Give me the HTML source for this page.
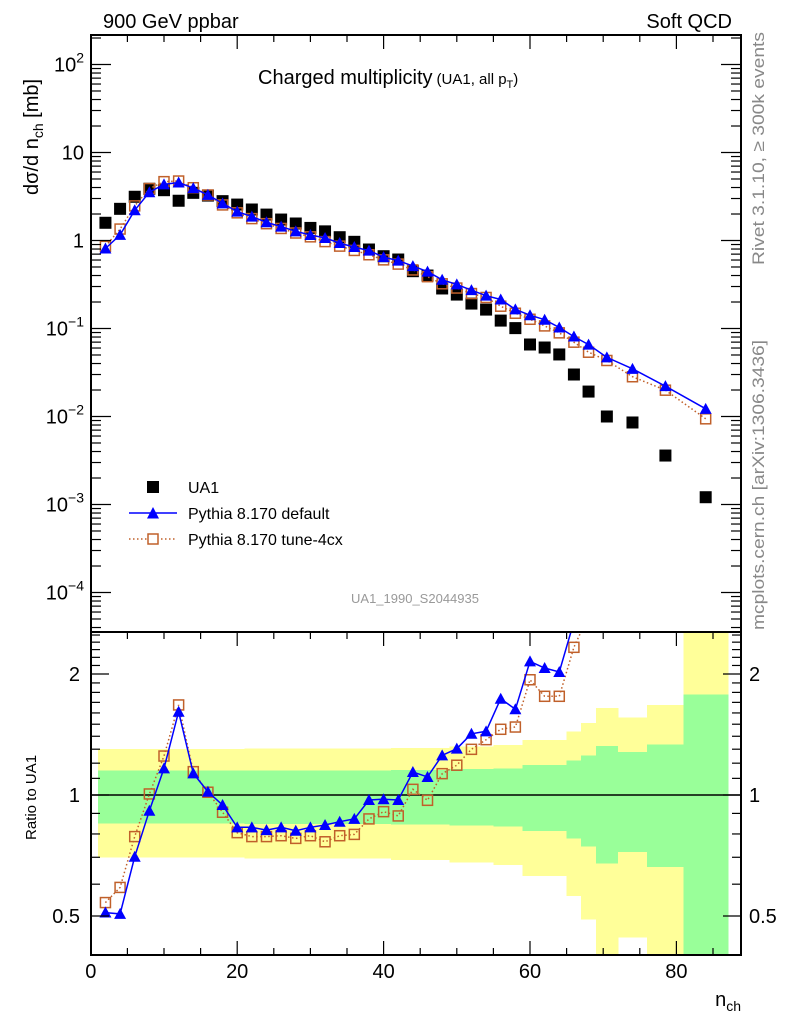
<!DOCTYPE html>
<html><head><meta charset="utf-8">
<style>
html,body{margin:0;padding:0;background:#fff;}
svg{display:block;font-family:"Liberation Sans",sans-serif;}
</style></head>
<body>
<svg id="chart" width="786" height="1024" viewBox="0 0 786 1024" xmlns="http://www.w3.org/2000/svg">
<defs>
<clipPath id="clipMain"><rect x="91" y="35" width="650" height="597"/></clipPath>
<clipPath id="clipRatio"><rect x="91" y="632" width="650" height="323"/></clipPath>
</defs>
<g id="bands" clip-path="url(#clipRatio)" shape-rendering="crispEdges"></g>
<line x1="91" y1="795" x2="741" y2="795" stroke="#000" stroke-width="1.5"/>
<g id="mainMarks" clip-path="url(#clipMain)"></g>
<g id="ratioMarks" clip-path="url(#clipRatio)"></g>
<g id="axes"></g>
<rect x="91" y="35" width="650" height="597" fill="none" stroke="#000" stroke-width="2"/>
<rect x="91" y="632" width="650" height="323" fill="none" stroke="#000" stroke-width="2"/>

<text x="103" y="28" font-size="20">900 GeV ppbar</text>
<text x="732" y="28" font-size="20" text-anchor="end">Soft QCD</text>
<text x="258" y="84" font-size="20">Charged multiplicity<tspan font-size="15" dx="4">(UA1, all p</tspan><tspan font-size="11" dy="4">T</tspan><tspan font-size="15" dy="-4">)</tspan></text>
<text transform="translate(38,195) rotate(-90)" font-size="20">dσ/d n<tspan font-size="14" dy="5">ch</tspan><tspan dy="-5"> [mb]</tspan></text>
<text transform="translate(36,840) rotate(-90)" font-size="15">Ratio to UA1</text>
<text x="741" y="1006" font-size="20" text-anchor="end">n<tspan font-size="14" dy="5">ch</tspan></text>
<text transform="translate(764,265) rotate(-90)" font-size="17" fill="#888" textLength="233" lengthAdjust="spacingAndGlyphs">Rivet 3.1.10, ≥ 300k events</text>
<text transform="translate(764,630) rotate(-90)" font-size="17" fill="#888" textLength="290" lengthAdjust="spacingAndGlyphs">mcplots.cern.ch [arXiv:1306.3436]</text>
<text x="415" y="603" font-size="13" fill="#999" text-anchor="middle">UA1_1990_S2044935</text>

<g>
<rect x="147" y="481" width="12" height="12" fill="#000"/>
<text x="188" y="493" font-size="16">UA1</text>
<line x1="129" y1="513" x2="177" y2="513" stroke="#0000ff" stroke-width="1.5"/>
<polygon points="147,518.5 159,518.5 153,507" fill="#0000ff"/>
<text x="188" y="519" font-size="16">Pythia 8.170 default</text>
<line x1="129" y1="539" x2="177" y2="539" stroke="#c0602a" stroke-width="1.5" stroke-dasharray="1.5,2.5"/>
<rect x="148" y="534" width="10" height="10" fill="#fff" stroke="#c0602a" stroke-width="1.5"/>
<text x="188" y="545" font-size="16">Pythia 8.170 tune-4cx</text>
</g>
</svg>
<script>
const nch = [2,4,6,8,10,12,14,16,18,20,22,24,26,28,30,32,34,36,38,40,42,44,46,48,50,52,54,56,58,60,62,64,66,68,70.5,74,78.5,84];
const binLo = [1,3,5,7,9,11,13,15,17,19,21,23,25,27,29,31,33,35,37,39,41,43,45,47,49,51,53,55,57,59,61,63,65,67,69,72,76,81];
const binHi = [3,5,7,9,11,13,15,17,19,21,23,25,27,29,31,33,35,37,39,41,43,45,47,49,51,53,55,57,59,61,63,65,67,69,72,76,81,87];
const ua1 = [1.59,2.29,3.14,3.87,3.73,2.83,3.48,3.24,2.80,2.56,2.25,1.97,1.73,1.56,1.39,1.27,1.09,0.966,0.79,0.663,0.608,0.448,0.40,0.285,0.243,0.192,0.164,0.123,0.101,0.0658,0.0608,0.0507,0.030,0.0192,0.0100,0.00855,0.00360,0.00121];
const ua1RelErr = [0.150,0.150,0.150,0.150,0.150,0.150,0.150,0.150,0.150,0.150,0.152,0.152,0.152,0.152,0.152,0.152,0.152,0.152,0.152,0.152,0.155,0.155,0.155,0.155,0.160,0.160,0.160,0.165,0.165,0.186,0.186,0.186,0.22,0.255,0.324,0.279,0.337,0.78];
const ratioDefault = [0.510,0.506,0.702,0.914,1.165,1.611,1.132,1.019,0.944,0.831,0.831,0.818,0.831,0.815,0.831,0.842,0.858,0.872,0.972,0.976,0.972,1.141,1.109,1.255,1.304,1.420,1.440,1.736,1.634,2.150,2.070,2.023,2.7,3.42,4.69,4.07,6.14,10.1];
const ratioTune = [0.540,0.589,0.788,1.006,1.250,1.675,1.143,1.016,0.906,0.806,0.788,0.788,0.792,0.780,0.792,0.765,0.792,0.798,0.872,0.909,0.887,1.033,0.970,1.130,1.186,1.299,1.373,1.457,1.476,1.935,1.760,1.760,2.33,2.8,4.33,3.31,5.53,7.78];
const xTicks = [0,20,40,60,80];
const mainDecades = [-4,-3,-2,-1,0,1,2];
const ratioMajor = [0.5,1,2];

const NS = "http://www.w3.org/2000/svg";
const X0 = 90.8, XS = 7.32, MAIN1 = 240.5, MDEC = 88, R1 = 795, RDEC = 402;
const xs = n => X0 + XS * n;
const ym = v => MAIN1 - MDEC * Math.log10(v);
const yr = r => R1 - RDEC * Math.log10(r);
function mk(tag, attrs, parent) {
  const e = document.createElementNS(NS, tag);
  for (const k in attrs) e.setAttribute(k, attrs[k]);
  parent.appendChild(e);
  return e;
}
const bands = document.getElementById('bands');
const mainG = document.getElementById('mainMarks');
const ratioG = document.getElementById('ratioMarks');
const axes = document.getElementById('axes');

nch.forEach((n, i) => {
  const e = ua1RelErr[i];
  const x1 = xs(binLo[i]), x2 = xs(binHi[i]) + 0.8;
  const lo2 = 1 - 2 * e > 0.01 ? yr(1 - 2 * e) : 960;
  const y = mk('rect', {x: x1, y: yr(1 + 2 * e), width: x2 - x1, height: lo2 - yr(1 + 2 * e), fill: '#ffff99'}, bands);
  
  
  const g = mk('rect', {x: x1, y: yr(1 + e), width: x2 - x1, height: yr(1 - e) - yr(1 + e), fill: '#99ff99'}, bands);
  
  
});

function drawSeries(parent, ys, kind, name) {
  const pts = nch.map((n, i) => xs(n).toFixed(1) + ',' + ys[i].toFixed(1)).join(' ');
  if (kind === 'tri') {
    const l = mk('polyline', {points: pts, fill: 'none', stroke: '#0000ff', 'stroke-width': 1.5}, parent);
    
    
  } else if (kind === 'sq') {
    const l = mk('polyline', {points: pts, fill: 'none', stroke: '#c0602a', 'stroke-width': 1.5, 'stroke-dasharray': '1.5,2.5'}, parent);
    
    
  }
  nch.forEach((n, i) => {
    const x = xs(n), y = ys[i];
    let m;
    if (kind === 'black') {
      m = mk('rect', {x: x - 6, y: y - 6, width: 12, height: 12, fill: '#000'}, parent);
    } else if (kind === 'tri') {
      m = mk('polygon', {points: `${x-6},${y+5} ${x+6},${y+5} ${x},${y-6}`, fill: '#0000ff'}, parent);
    } else {
      m = mk('rect', {x: x - 5, y: y - 5, width: 10, height: 10, fill: 'none', stroke: '#c0602a', 'stroke-width': 1.5}, parent);
    }
    
    
  });
}
drawSeries(mainG, ua1.map(ym), 'black', 'ua1');
drawSeries(mainG, ua1.map((v, i) => ym(v * ratioTune[i])), 'sq', 'tune4cx');
drawSeries(mainG, ua1.map((v, i) => ym(v * ratioDefault[i])), 'tri', 'default');
drawSeries(ratioG, ratioTune.map(yr), 'sq', 'tune4cx-ratio');
drawSeries(ratioG, ratioDefault.map(yr), 'tri', 'default-ratio');

for (let n = 0; n <= 85; n += 5) {
  const major = n % 20 === 0;
  const L = major ? 14 : 7;
  const x = xs(n);
  [[35, 35 + L], [632, 632 + L], [955, 955 - L]].forEach(([a, b]) => {
    const t = mk('line', {x1: x, x2: x, y1: a, y2: b, stroke: '#000', 'stroke-width': 1.2}, axes);
    
    
  });
}
xTicks.forEach(n => {
  const t = mk('text', {x: xs(n), y: 978, 'font-size': 20, 'text-anchor': 'middle'}, axes);
  t.textContent = n;
  
  
});
for (let d = -5; d <= 2; d++) {
  for (let k = 1; k <= 9; k++) {
    const v = k * Math.pow(10, d);
    const y = ym(v);
    if (y < 35 || y > 632) continue;
    const L = k === 1 ? 20 : 10;
    [[91, 91 + L], [741, 741 - L]].forEach(([a, b]) => {
      const t = mk('line', {x1: a, x2: b, y1: y, y2: y, stroke: '#000', 'stroke-width': 1.2}, axes);
      
      
    });
  }
}
mainDecades.forEach(d => {
  const y = ym(Math.pow(10, d)) + 7;
  const t = mk('text', {x: 84, y: y, 'font-size': 20, 'text-anchor': 'end'}, axes);
  if (d === 0) t.textContent = '1';
  else if (d === 1) t.textContent = '10';
  else {
    const s1 = mk('tspan', {}, t); s1.textContent = '10';
    const s2 = mk('tspan', {'font-size': 14, dy: -9}, t); s2.textContent = d < 0 ? '\u2212' + (-d) : String(d);
  }
  
  
});
for (let r = 0.4; r <= 2.55; r += 0.1) {
  const rr = Math.round(r * 10) / 10;
  const y = yr(rr);
  if (y < 632 || y > 955) continue;
  const major = ratioMajor.includes(rr);
  const L = major ? 18 : 9;
  [[91, 91 + L], [741, 741 - L]].forEach(([a, b]) => {
    const t = mk('line', {x1: a, x2: b, y1: y, y2: y, stroke: '#000', 'stroke-width': 1.2}, axes);
    
    
  });
}
ratioMajor.forEach(r => {
  [[80, 'end'], [749, 'start']].forEach(([x, a]) => {
    const t = mk('text', {x: x, y: yr(r) + 7, 'font-size': 20, 'text-anchor': a}, axes);
    t.textContent = String(r);
    
    
  });
});
</script>
</body></html>
